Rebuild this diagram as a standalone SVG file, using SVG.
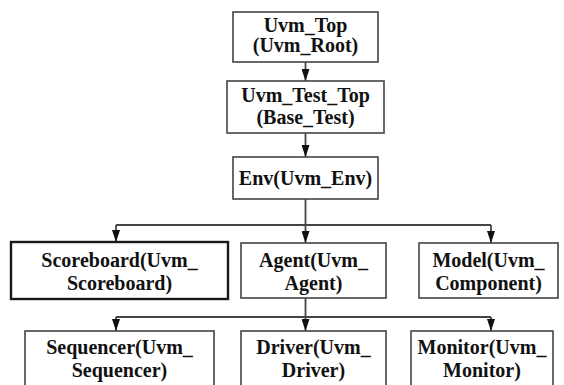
<svg xmlns="http://www.w3.org/2000/svg" width="564" height="385" viewBox="0 0 564 385">
<style>
  .box { fill: #ffffff; stroke: #444444; stroke-width: 1.6; }
  .bold-box { fill: #ffffff; stroke: #1a1a1a; stroke-width: 2.4; }
  .lbl { font-family: "Liberation Serif", "Times New Roman", serif; font-weight: bold; font-size: 20px; fill: #111111; text-anchor: middle; }
  .conn { fill: none; stroke: #444444; stroke-width: 1.8; }
  .arr { marker-end: url(#ah); }
</style>
<defs>
  <marker id="ah" markerUnits="userSpaceOnUse" markerWidth="12" markerHeight="8" refX="12" refY="4" orient="auto">
    <path d="M0,0 L12,4 L0,8 z" fill="#111111"/>
  </marker>
</defs>
<rect width="564" height="385" fill="#ffffff"/>
<g id="connectors">
  <path class="conn arr" d="M305.5,62 V81"/>
  <path class="conn arr" d="M305.5,133 V157"/>
  <path class="conn" d="M305.5,199 V225"/>
  <path class="conn" d="M116,225 H491"/>
  <path class="conn arr" d="M116,225 V242"/>
  <path class="conn arr" d="M305.5,225 V243"/>
  <path class="conn arr" d="M491,225 V243"/>
  <path class="conn" d="M305.5,298 V317"/>
  <path class="conn" d="M116,317 H491"/>
  <path class="conn arr" d="M116,317 V331"/>
  <path class="conn arr" d="M305.5,317 V331"/>
  <path class="conn arr" d="M491,317 V331"/>
</g>
<g id="uvm_top">
  <rect class="box" x="233" y="12" width="145" height="50"/>
  <text class="lbl" x="305.5" y="32">Uvm_Top</text>
  <text class="lbl" x="305.5" y="52">(Uvm_Root)</text>
</g>
<g id="uvm_test_top">
  <rect class="box" x="227" y="81" width="157" height="52"/>
  <text class="lbl" x="305.5" y="102">Uvm_Test_Top</text>
  <text class="lbl" x="305.5" y="124">(Base_Test)</text>
</g>
<g id="env">
  <rect class="box" x="233" y="157" width="145" height="42"/>
  <text class="lbl" x="305.5" y="185">Env(Uvm_Env)</text>
</g>
<g id="scoreboard">
  <rect class="bold-box" x="11" y="242" width="217" height="57"/>
  <text class="lbl" x="119.5" y="267">Scoreboard(Uvm_</text>
  <text class="lbl" x="119.5" y="290">Scoreboard)</text>
</g>
<g id="agent">
  <rect class="box" x="241" y="243" width="145" height="55"/>
  <text class="lbl" x="313.5" y="267">Agent(Uvm_</text>
  <text class="lbl" x="313.5" y="290">Agent)</text>
</g>
<g id="model">
  <rect class="box" x="419" y="243" width="139" height="55"/>
  <text class="lbl" x="488.5" y="267">Model(Uvm_</text>
  <text class="lbl" x="488.5" y="290">Component)</text>
</g>
<g id="sequencer">
  <rect class="box" x="25" y="331" width="189" height="64"/>
  <text class="lbl" x="119.5" y="354">Sequencer(Uvm_</text>
  <text class="lbl" x="119.5" y="377">Sequencer)</text>
</g>
<g id="driver">
  <rect class="box" x="241" y="331" width="145" height="64"/>
  <text class="lbl" x="313.5" y="354">Driver(Uvm_</text>
  <text class="lbl" x="313.5" y="377">Driver)</text>
</g>
<g id="monitor">
  <rect class="box" x="411" y="331" width="142" height="64"/>
  <text class="lbl" x="482" y="354">Monitor(Uvm_</text>
  <text class="lbl" x="482" y="377">Monitor)</text>
</g>
</svg>
